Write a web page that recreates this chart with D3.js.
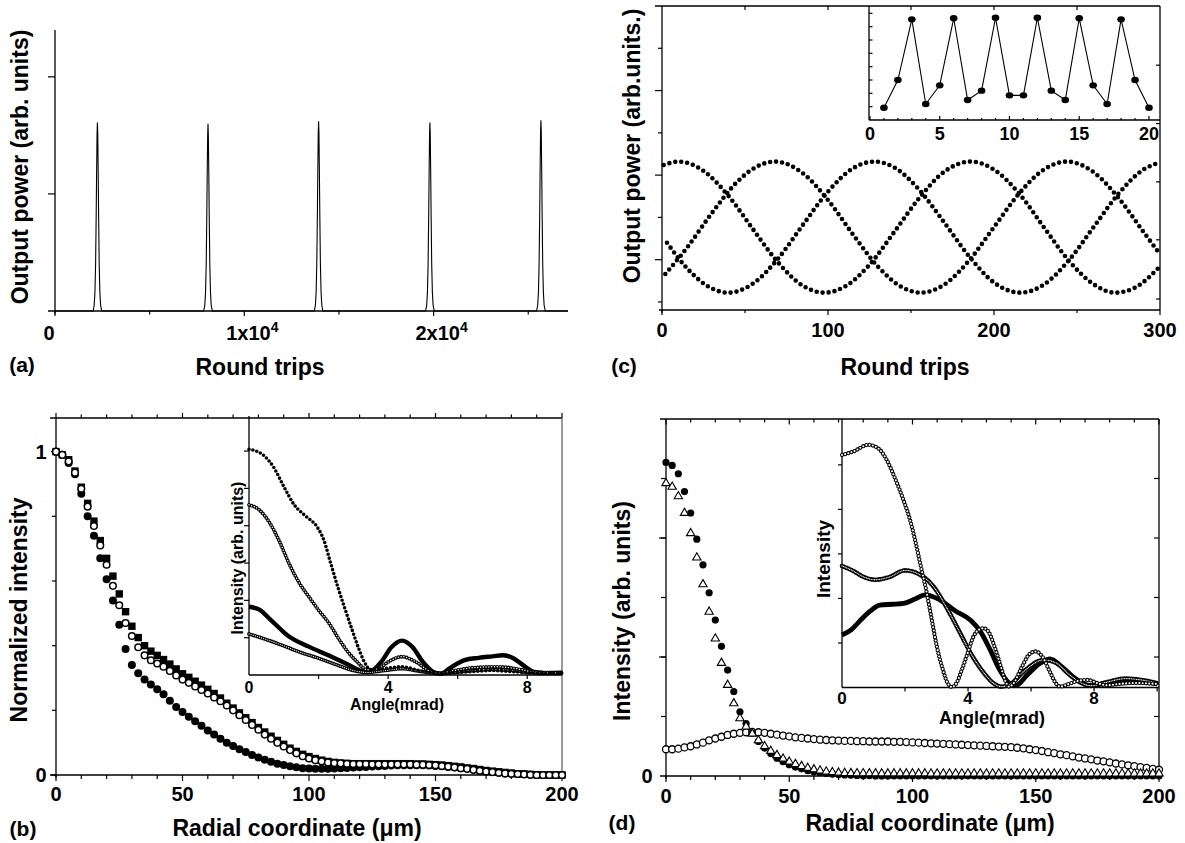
<!DOCTYPE html>
<html>
<head>
<meta charset="utf-8">
<script src="https://cdn.jsdelivr.net/npm/d3@7"></script>
<style>
  body { margin: 0; background: #fff; }
  text { font-family: "Liberation Sans", Arial, sans-serif; font-weight: bold; fill: #000; }
</style>
</head>
<body>
<svg width="1185" height="843"></svg>
<script>
// --- Data: panel (a) ---
const pulseCenters = [2240, 8083, 13925, 19805, 25669];
const pulseHeights = [1.61, 1.60, 1.62, 1.61, 1.63];
// shape of one pulse: offset in round trips, fraction of peak height
const pulseProfile = [[-230, 0], [-170, 0.03], [-130, 0.1], [-95, 0.25], [-65, 0.5], [-40, 0.75], [-18, 0.94], [0, 1],
  [18, 0.94], [40, 0.75], [65, 0.5], [95, 0.25], [130, 0.1], [170, 0.03], [230, 0]];
const aXMajor = [0, 10000, 20000];
const aXMinor = [5000, 15000, 25000];
const aYTicks = [1, 2];

// --- Data: panel (c) ---
const cCurveA = [[1, 3.24], [10, 3.32], [25, 3.10], [40, 2.51], [55, 1.71], [70, 0.93], [85, 0.38], [98, 0.22], [110, 0.36],
  [125, 0.88], [140, 1.66], [155, 2.46], [170, 3.08], [186, 3.32], [200, 3.13], [215, 2.57], [230, 1.77], [245, 0.98],
  [260, 0.42], [273, 0.22], [285, 0.34], [299, 0.80]];
const cCurveB = [[2, 0.66], [15, 1.28], [30, 2.10], [45, 2.83], [57, 3.20], [68, 3.32], [85, 3.04], [100, 2.41], [115, 1.60],
  [130, 0.84], [145, 0.34], [156, 0.22], [170, 0.41], [185, 0.98], [200, 1.77], [215, 2.56], [230, 3.13], [244, 3.32],
  [260, 3.07], [275, 2.46], [290, 1.66], [300, 1.13]];
const cCurveC = [[3, 1.40], [15, 0.80], [30, 0.32], [40, 0.22], [55, 0.44], [70, 1.03], [85, 1.83], [100, 2.61], [115, 3.16],
  [128, 3.32], [140, 3.18], [155, 2.65], [170, 1.88], [185, 1.08], [200, 0.46], [216, 0.22], [230, 0.41], [245, 0.98],
  [260, 1.77], [275, 2.56], [290, 3.13], [300, 3.30]];
const cXMajor = [0, 100, 200, 300];
const cXMinor = [50, 150, 250];
const cTopTicks = [50, 100, 150, 200, 250];
const cYMajor = [1, 3, 5];
const cYMinor = [0, 2, 4, 6];
const cRightTicks = [0.07, 1.47, 2.84, 4.22, 5.6];
const cInsetTrips = d3.range(1, 21);
const cInsetPower = [0.92, 3.0, 7.55, 1.2, 2.6, 7.63, 1.5, 2.2, 7.67, 1.85, 1.85, 7.67, 2.2, 1.5, 7.63, 2.6, 1.2, 7.55, 3.0, 0.92];
const cInsetLabels = [0, 5, 10, 15, 20];

// --- Data: panel (b) ---  radial samples every 2.5 um
const rGrid = d3.range(0, 200.01, 2.5);
const bFilled = [1.00, .99, .965, .93, .87, .80, .74, .67, .605, .54, .465, .39, .34, .315, .295, .28, .265, .25, .23, .21, .195,
  .18, .166, .152, .138, .125, .112, .10, .09, .08, .071, .062, .054, .047, .041, .035, .031, .027, .024, .021, .02,
  .019, .019, .019, .02, .021, .022, .023, .024, .025, .026, .027, .028, .029, .03, .03, .03, .03, .03, .029, .028,
  .027, .025, .023, .021, .019, .016, .013, .011, .009, .007, .005, .004, .003, .002, .001, 0, 0, 0, 0, 0];
const bOpen = [1.00, .99, .97, .935, .885, .83, .77, .71, .65, .585, .525, .47, .43, .395, .37, .355, .345, .335, .322, .308, .295,
  .285, .274, .263, .252, .24, .228, .215, .20, .185, .17, .155, .14, .125, .112, .10, .088, .077, .067, .058, .051,
  .046, .042, .039, .037, .036, .035, .034, .034, .034, .033, .033, .033, .033, .033, .033, .033, .032, .032, .031, .03,
  .028, .026, .024, .021, .019, .016, .013, .011, .009, .007, .005, .004, .003, .002, .001, 0, 0, 0, 0, 0];
const bSquare = [1.00, .99, .975, .94, .89, .84, .785, .725, .67, .615, .56, .505, .46, .425, .40, .383, .37, .357, .343, .328, .313,
  .302, .29, .278, .265, .252, .238, .222, .207, .192, .177, .162, .147, .133, .12, .107, .095, .083, .073, .064, .057,
  .051, .046, .042, .039, .037, .036, .035, .035, .035, .035, .035, .035, .035, .035, .035, .035, .034, .034, .033, .032,
  .031, .029, .027, .025, .022, .02, .017, .014, .012, .01, .008, .006, .004, .003, .002, .001, 0, 0, 0, 0];
const bXLabels = [0, 50, 100, 150, 200];
const bYLabels = [0, 1];
const bYMinor = [0.2, 0.4, 0.6, 0.8];
// inset (b): angle in mrad, intensity
const bIn1 = [[0, 6.05], [0.4, 5.9], [0.7, 5.58], [1.0, 5.05], [1.3, 4.56], [1.65, 4.24], [1.95, 3.98], [2.15, 3.62], [2.35, 2.99],
  [2.55, 2.37], [2.75, 1.8], [2.95, 1.25], [3.15, 0.72], [3.3, 0.38], [3.5, 0.14], [3.8, 0.16], [4.4, 0.22], [4.9, 0.12],
  [5.5, 0.05], [6.2, 0.08], [7.0, 0.12], [7.7, 0.08], [8.3, 0.05], [9.0, 0.05]];
const bIn2 = [[0, 4.56], [0.3, 4.42], [0.6, 4.07], [0.9, 3.53], [1.15, 2.99], [1.45, 2.46], [1.72, 2.1], [2.0, 1.74], [2.3, 1.39],
  [2.6, 0.94], [2.87, 0.59], [3.1, 0.36], [3.4, 0.14], [3.7, 0.16], [4.0, 0.35], [4.4, 0.49], [4.8, 0.35], [5.2, 0.1],
  [5.5, 0.05], [5.9, 0.12], [6.5, 0.2], [7.2, 0.22], [7.8, 0.15], [8.3, 0.07], [9.0, 0.06]];
const bIn3 = [[0, 1.83], [0.3, 1.75], [0.6, 1.5], [1.15, 1.03], [1.72, 0.76], [2.3, 0.52], [2.8, 0.3], [3.2, 0.12], [3.45, 0.08],
  [3.8, 0.35], [4.1, 0.75], [4.4, 0.92], [4.7, 0.75], [5.0, 0.35], [5.3, 0.08], [5.5, 0.03], [5.8, 0.2], [6.2, 0.4],
  [6.6, 0.46], [7.0, 0.5], [7.3, 0.53], [7.6, 0.45], [7.9, 0.25], [8.2, 0.08], [8.5, 0.05], [9.0, 0.06]];
const bIn4 = [[0, 1.1], [0.5, 0.95], [1.0, 0.78], [1.5, 0.6], [2.0, 0.45], [2.5, 0.28], [3.0, 0.12], [3.4, 0.07], [3.9, 0.12],
  [4.4, 0.17], [4.9, 0.1], [5.5, 0.04], [6.2, 0.1], [7.0, 0.15], [7.6, 0.12], [8.2, 0.06], [9.0, 0.06]];
const bInLabels = [0, 4, 8];

// --- Data: panel (d) ---
const dFilled = [5.27, 5.22, 5.08, 4.78, 4.42, 3.98, 3.55, 3.08, 2.62, 2.18, 1.78, 1.42, 1.08, 0.88, 0.72, 0.58, 0.47, 0.38, 0.30, 0.24, 0.19,
  0.15, 0.12, 0.09, 0.07, 0.055, 0.042, 0.032, 0.024, 0.018, 0.013, 0.009, 0.006, 0.004, 0.002, 0.001, 0, 0, 0, 0, 0,
  0, 0, 0, 0, 0, 0, 0, 0, 0, 0, 0, 0, 0, 0, 0, 0, 0, 0, 0, 0,
  0, 0, 0, 0, 0, 0, 0, 0, 0, 0, 0, 0, 0, 0, 0, 0, 0, 0, 0, 0];
const dTri = [4.92, 4.86, 4.70, 4.42, 4.08, 3.67, 3.22, 2.76, 2.31, 1.90, 1.53, 1.22, 0.97, 0.83, 0.71, 0.60, 0.50, 0.42, 0.35, 0.29, 0.24,
  0.20, 0.165, 0.135, 0.11, 0.09, 0.075, 0.063, 0.055, 0.05, 0.047, 0.045, 0.044, 0.043, 0.043, 0.042, 0.042, 0.042, 0.042, 0.042, 0.042,
  0.042, 0.042, 0.041, 0.041, 0.041, 0.041, 0.041, 0.041, 0.04, 0.04, 0.04, 0.04, 0.04, 0.04, 0.04, 0.04, 0.04, 0.04, 0.04, 0.04,
  0.04, 0.04, 0.04, 0.04, 0.04, 0.04, 0.04, 0.04, 0.04, 0.04, 0.04, 0.04, 0.04, 0.04, 0.04, 0.04, 0.04, 0.04, 0.04, 0.04];
const dOpen = [.45, .45, .46, .48, .50, .53, .56, .60, .63, .66, .69, .71, .725, .735, .74, .735, .725, .71, .695, .68, .665,
  .65, .64, .63, .62, .61, .605, .60, .595, .59, .59, .585, .585, .58, .58, .58, .58, .575, .575, .57, .565,
  .56, .555, .55, .545, .54, .535, .53, .525, .52, .515, .51, .505, .50, .495, .49, .485, .475, .465, .45, .435,
  .42, .40, .385, .365, .35, .33, .31, .295, .28, .26, .245, .23, .21, .195, .18, .165, .15, .135, .12, .105];
const dYTicks = [1, 2, 3, 4, 5];
// inset (d)
const dInOpen = [[0, 5.22], [0.36, 5.3], [0.84, 5.45], [1.15, 5.37], [1.42, 5.11], [1.68, 4.7], [1.95, 4.21], [2.16, 3.76],
  [2.32, 3.31], [2.48, 2.79], [2.69, 2.12], [2.85, 1.52], [3.01, 0.92], [3.2, 0.4], [3.35, 0.1], [3.49, 0.01], [3.65, 0.12],
  [3.8, 0.39], [4.0, 0.8], [4.17, 1.14], [4.35, 1.3], [4.5, 1.33], [4.65, 1.25], [4.85, 0.9], [5.05, 0.45], [5.2, 0.12],
  [5.3, 0.02], [5.45, 0.1], [5.7, 0.45], [5.95, 0.75], [6.15, 0.81], [6.35, 0.7], [6.6, 0.35], [6.8, 0.08], [6.92, 0.02],
  [7.2, 0.08], [7.5, 0.15], [7.8, 0.17], [8.1, 0.1], [8.4, 0.05], [8.8, 0.08], [9.3, 0.1], [10, 0.08]];
const dInUpper = [[0, 2.73], [0.35, 2.62], [0.7, 2.48], [1.05, 2.42], [1.5, 2.48], [2.0, 2.63], [2.4, 2.56], [2.9, 2.27],
  [3.3, 1.82], [3.75, 1.22], [4.1, 0.75], [4.5, 0.33], [4.8, 0.1], [5.05, 0.02], [5.35, 0.08], [5.8, 0.38], [6.4, 0.62],
  [6.8, 0.55], [7.2, 0.3], [7.6, 0.1], [7.9, 0.04], [8.4, 0.12], [9.0, 0.2], [9.5, 0.17], [10, 0.1]];
const dInLower = [[0, 1.18], [0.3, 1.3], [0.6, 1.52], [0.9, 1.72], [1.2, 1.85], [1.6, 1.87], [1.95, 1.89], [2.3, 1.98],
  [2.65, 2.08], [3.1, 1.97], [3.6, 1.72], [4.1, 1.5], [4.4, 1.25], [4.7, 0.85], [5.0, 0.4], [5.3, 0.1], [5.5, 0.04],
  [5.9, 0.3], [6.3, 0.55], [6.6, 0.64], [7.0, 0.45], [7.4, 0.2], [7.9, 0.04], [8.4, 0.1], [9.0, 0.17], [9.5, 0.15], [10, 0.08]];
const dInLabels = [0, 4, 8];

// --- helpers ---
const svg = d3.select("svg");

function seg(x1, y1, x2, y2, col) {
  svg.append("line").attr("x1", x1).attr("y1", y1).attr("x2", x2).attr("y2", y2)
    .attr("stroke", col || "#000").attr("stroke-width", 1.3);
}
// ticks on a horizontal axis at height y (len > 0 points down)
function hTicks(vals, sx, y, len) {
  svg.append("g").selectAll("line").data(vals).join("line")
    .attr("x1", d => sx(d)).attr("x2", d => sx(d)).attr("y1", y).attr("y2", y + len)
    .attr("stroke", "#000").attr("stroke-width", 1.2);
}
// ticks on a vertical axis at x (len > 0 points right)
function vTicks(vals, sy, x, len) {
  svg.append("g").selectAll("line").data(vals).join("line")
    .attr("y1", d => sy(d)).attr("y2", d => sy(d)).attr("x1", x).attr("x2", x + len)
    .attr("stroke", "#000").attr("stroke-width", 1.2);
}
function label(s, x, y, size, rot) {
  const t = svg.append("text").attr("x", x).attr("y", y).attr("font-size", size)
    .attr("text-anchor", "middle").attr("dy", "0.35em").text(s);
  if (rot) t.attr("transform", `rotate(-90 ${x} ${y})`);
  return t;
}
function xLabels(vals, sx, y, size) {
  svg.append("g").selectAll("text").data(vals).join("text")
    .attr("x", d => sx(d)).attr("y", y).attr("dy", "0.35em").attr("font-size", size)
    .attr("text-anchor", "middle").text(d => d);
}
// a series drawn as a row of round dots along a smooth curve
function dotted(pts, sx, sy, w, gap, col) {
  const ln = d3.line().x(d => sx(d[0])).y(d => sy(d[1])).curve(d3.curveMonotoneX);
  svg.append("path").attr("d", ln(pts)).attr("fill", "none")
    .attr("stroke", col || "#000").attr("stroke-width", w)
    .attr("stroke-linecap", "round").attr("stroke-dasharray", `0 ${gap}`);
}
function rings(pts, sx, sy, w, hole, gap) {
  dotted(pts, sx, sy, w, gap, "#000");
  dotted(pts, sx, sy, hole, gap, "#fff");
}
function solid(pts, sx, sy, w) {
  const ln = d3.line().x(d => sx(d[0])).y(d => sy(d[1])).curve(d3.curveMonotoneX);
  svg.append("path").attr("d", ln(pts)).attr("fill", "none").attr("stroke", "#000").attr("stroke-width", w);
}
const pairs = vals => rGrid.map((r, i) => [r, vals[i]]).filter(d => d[1] !== undefined);

// ================= panel (a) =================
const xA = d3.scaleLinear().domain([0, 27100]).range([55, 568]);
const yA = d3.scaleLinear().domain([0, 2.4]).range([311, 30]);
const aSeries = [[0, 0]];
pulseCenters.forEach((c, i) => pulseProfile.forEach(([dx, f]) => aSeries.push([c + dx, f * pulseHeights[i]])));
aSeries.push([27100, 0]);

seg(55, 30, 55, 314);
seg(48, 311, 568, 311);
vTicks(aYTicks, yA, 55, -7);
hTicks(aXMajor, xA, 311, 5);
hTicks(aXMinor, xA, 311, 3.5);
svg.append("path").datum(aSeries)
  .attr("d", d3.line().x(d => xA(d[0])).y(d => yA(d[1])))
  .attr("fill", "none").attr("stroke", "#000").attr("stroke-width", 1.1);

aXMajor.forEach(v => {
  const t = svg.append("text").attr("y", 333).attr("dy", "0.35em").attr("font-size", 20).attr("text-anchor", "middle");
  if (v === 0) { t.attr("x", xA(v) - 6).text("0"); return; }
  t.attr("x", xA(v) + 8);
  t.append("tspan").text(`${v / 10000}x10`);
  t.append("tspan").attr("dy", "-0.55em").attr("font-size", 14).text("4");
});
label("Output power (arb. units)", 20, 167, 23, true);
label("Round trips", 260, 367, 23);
label("(a)", 22, 365, 21);

// ================= panel (c) =================
const xC = d3.scaleLinear().domain([0, 300]).range([662, 1160]);
const yC = d3.scaleLinear().domain([-0.19, 7.0]).range([310, 6]);
seg(662, 6, 662, 313);
seg(655, 6, 1160, 6);
seg(1160, 6, 1160, 310);
seg(659, 310, 1160, 310);
vTicks(cYMajor, yC, 662, -7);
vTicks(cYMinor, yC, 662, -4);
vTicks(cRightTicks, yC, 1160, -4);
hTicks(cXMajor, xC, 310, 5);
hTicks(cXMinor, xC, 310, 3);
hTicks(cTopTicks, xC, 6, 4);
[cCurveA, cCurveB, cCurveC].forEach(c => dotted(c, xC, yC, 4.6, 6));
xLabels(cXMajor, xC, 330, 20);
label("Output power (arb.units.)", 632, 146, 23, true);
label("Round trips", 905, 367, 23);
label("(c)", 624, 366, 21);

// inset (c)
const xCi = d3.scaleLinear().domain([-0.07, 20.79]).range([869, 1160]);
const yCi = d3.scaleLinear().domain([0, 8.55]).range([120, 6]);
seg(869, 6, 869, 120);
seg(869, 120, 1160, 120);
vTicks(d3.range(1, 9), yCi, 869, 3.5);
hTicks(cInsetLabels, xCi, 120, -4);
hTicks(cInsetTrips.filter(d => d % 5), xCi, 120, -2);
const cInset = cInsetTrips.map((t, i) => [t, cInsetPower[i]]);
svg.append("path").datum(cInset)
  .attr("d", d3.line().x(d => xCi(d[0])).y(d => yCi(d[1])))
  .attr("fill", "none").attr("stroke", "#000").attr("stroke-width", 1.1);
svg.append("g").selectAll("ellipse").data(cInset).join("ellipse")
  .attr("cx", d => xCi(d[0])).attr("cy", d => yCi(d[1])).attr("rx", 3.8).attr("ry", 3.2).attr("fill", "#000");
xLabels(cInsetLabels, xCi, 134, 18);

// ================= panel (b) =================
const xB = d3.scaleLinear().domain([0, 200]).range([56, 562]);
const yB = d3.scaleLinear().domain([0, 1.104]).range([775, 418]);
const rTicks10 = d3.range(0, 201, 10);
seg(56, 418, 56, 778);
seg(50, 418, 562, 418);
seg(50, 775, 562, 775);
seg(562, 418, 562, 775, "#666");
vTicks(bYLabels, yB, 56, -5);
vTicks(bYMinor, yB, 56, -4);
hTicks(rTicks10.filter(d => d % 50), xB, 775, 4);
hTicks(bXLabels, xB, 775, 6);
hTicks(rTicks10.filter(d => d % 50), xB, 418, -3.5);
hTicks(bXLabels, xB, 418, -5);

svg.append("g").selectAll("rect").data(pairs(bSquare)).join("rect")
  .attr("x", d => xB(d[0]) - 3.7).attr("y", d => yB(d[1]) - 3.7).attr("width", 7.4).attr("height", 7.4).attr("fill", "#000");
svg.append("g").selectAll("circle").data(pairs(bFilled)).join("circle")
  .attr("cx", d => xB(d[0])).attr("cy", d => yB(d[1])).attr("r", 4).attr("fill", "#000");
svg.append("g").selectAll("circle").data(pairs(bOpen)).join("circle")
  .attr("cx", d => xB(d[0])).attr("cy", d => yB(d[1])).attr("r", 3.3)
  .attr("fill", "#fff").attr("stroke", "#000").attr("stroke-width", 1.5);

xLabels(bXLabels, xB, 794, 20);
svg.append("g").selectAll("text").data(bYLabels).join("text")
  .attr("x", 41).attr("y", d => yB(d)).attr("dy", "0.35em").attr("font-size", 20)
  .attr("text-anchor", "middle").text(d => d);
label("Normalized intensity", 19, 610, 23, true);
label("Radial coordinate (\u03BCm)", 297, 828, 23);
label("(b)", 23, 829, 21);

// inset (b)
const xBi = d3.scaleLinear().domain([0, 9]).range([249, 562]);
const yBi = d3.scaleLinear().domain([0, 6.94]).range([675, 416]);
seg(249, 416, 249, 675);
seg(249, 675, 562, 675);
vTicks(d3.range(1, 7), yBi, 249, -5);
hTicks([2, 4, 6, 8], xBi, 675, 4);
solid(bIn3, xBi, yBi, 4.4);
rings(bIn4, xBi, yBi, 3.8, 1.3, 2.2);
rings(bIn2, xBi, yBi, 3.8, 1.5, 2.8);
dotted(bIn1, xBi, yBi, 3.6, 4);
xLabels(bInLabels, xBi, 687, 16);
label("Intensity (arb. units)", 237, 558, 16, true);
label("Angle(mrad)", 397, 704, 16);

// ================= panel (d) =================
const xD = d3.scaleLinear().domain([0, 200]).range([666, 1159]);
const yD = d3.scaleLinear().domain([0, 6]).range([776, 419]);
seg(666, 419, 666, 779);
seg(660, 419, 1159, 419);
seg(660, 776, 1159, 776);
seg(1159, 419, 1159, 776);
vTicks(dYTicks, yD, 666, -5);
vTicks([2, 4], yD, 666, -7);
vTicks(dYTicks, yD, 1159, -5);
hTicks(rTicks10.filter(d => d % 50), xD, 776, 4);
hTicks(bXLabels, xD, 776, 6);
hTicks(rTicks10.filter(d => d % 50), xD, 419, 3.5);
hTicks(bXLabels, xD, 419, 5.5);

svg.append("g").selectAll("circle").data(pairs(dOpen)).join("circle")
  .attr("cx", d => xD(d[0])).attr("cy", d => yD(d[1])).attr("r", 3.5)
  .attr("fill", "#fff").attr("stroke", "#000").attr("stroke-width", 1.3);
svg.append("g").selectAll("circle").data(pairs(dFilled)).join("circle")
  .attr("cx", d => xD(d[0])).attr("cy", d => yD(d[1])).attr("r", 3.6).attr("fill", "#000");
svg.append("g").selectAll("path").data(pairs(dTri)).join("path")
  .attr("d", d3.symbol(d3.symbolTriangle, 30))
  .attr("transform", d => `translate(${xD(d[0])},${yD(d[1])})`)
  .attr("fill", "#fff").attr("stroke", "#000").attr("stroke-width", 1.1);

xLabels(bXLabels, xD, 796, 20);
label("0", 647, yD(0), 20);
label("Intensity (arb. units)", 622, 611, 23, true);
label("Radial coordinate (\u03BCm)", 930, 823, 23);
label("(d)", 622, 823, 21);

// inset (d)
const xDi = d3.scaleLinear().domain([0, 10.06]).range([842, 1159]);
const yDi = d3.scaleLinear().domain([0, 6.03]).range([687.5, 419]);
seg(842, 419, 842, 687.5);
seg(842, 687.5, 1159, 687.5);
vTicks([1, 2, 3, 4, 5], yDi, 842, -4);
hTicks([2, 4, 6, 8, 10], xDi, 687.5, 4);
solid(dInLower, xDi, yDi, 4.8);
rings(dInUpper, xDi, yDi, 4.6, 1.3, 1.7);
rings(dInOpen, xDi, yDi, 4.3, 2.1, 3.3);
xLabels(dInLabels, xDi, 698, 17);
label("Intensity", 823, 559, 19, true);
label("Angle(mrad)", 992, 718, 18);
</script>
</body>
</html>
